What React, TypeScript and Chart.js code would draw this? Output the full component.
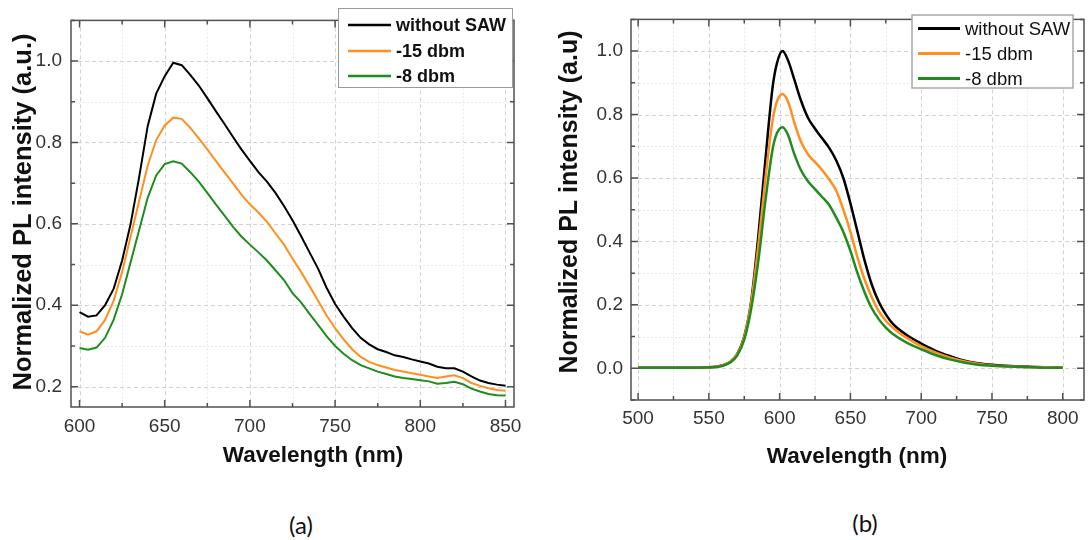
import React, { useEffect, useRef } from "react";
import { Chart, registerables } from "chart.js";

Chart.register(...registerables);

// ---------- data: panel (a) ----------
const wavelengthsA = [
  600, 605, 610, 615, 620, 625, 630, 635, 640, 645, 650, 655, 660, 665, 670, 675, 680,
  685, 690, 695, 700, 705, 710, 715, 720, 725, 730, 735, 740, 745, 750, 755, 760, 765,
  770, 775, 780, 785, 790, 795, 800, 805, 810, 815, 820, 825, 830, 835, 840, 845, 850,
];
const withoutSawA = [
  0.383, 0.372, 0.375, 0.4, 0.44, 0.51, 0.6, 0.715, 0.84, 0.92, 0.963, 0.996, 0.99,
  0.966, 0.94, 0.909, 0.877, 0.846, 0.814, 0.783, 0.755, 0.727, 0.704, 0.676, 0.644,
  0.609, 0.57, 0.53, 0.49, 0.443, 0.403, 0.372, 0.344, 0.32, 0.304, 0.292, 0.285, 0.277,
  0.273, 0.267, 0.262, 0.257, 0.249, 0.245, 0.245, 0.237, 0.225, 0.215, 0.209, 0.205, 0.202,
];
const dbm15A = [
  0.336, 0.328, 0.336, 0.364, 0.411, 0.482, 0.569, 0.656, 0.743, 0.806, 0.842, 0.861, 0.858,
  0.836, 0.81, 0.783, 0.755, 0.727, 0.7, 0.672, 0.648, 0.628, 0.605, 0.577, 0.549, 0.515,
  0.482, 0.447, 0.411, 0.375, 0.344, 0.316, 0.292, 0.273, 0.261, 0.253, 0.247, 0.241, 0.237,
  0.233, 0.229, 0.225, 0.221, 0.225, 0.228, 0.221, 0.209, 0.202, 0.196, 0.192, 0.19,
];
const dbm8A = [
  0.295, 0.291, 0.296, 0.32, 0.364, 0.427, 0.506, 0.585, 0.664, 0.719, 0.747, 0.754, 0.748,
  0.727, 0.704, 0.676, 0.648, 0.621, 0.593, 0.569, 0.549, 0.53, 0.51, 0.486, 0.462, 0.43,
  0.407, 0.379, 0.352, 0.324, 0.3, 0.281, 0.265, 0.253, 0.245, 0.237, 0.231, 0.225, 0.221,
  0.219, 0.216, 0.213, 0.207, 0.209, 0.212, 0.206, 0.195, 0.188, 0.182, 0.179, 0.178,
];

// ---------- data: panel (b) ----------
const wavelengthsB = [
  500, 520, 540, 550, 555, 560, 565, 570, 575, 580, 585, 590, 595, 598, 602, 606, 610, 615,
  620, 625, 630, 635, 640, 645, 650, 655, 660, 665, 670, 675, 680, 690, 700, 710, 720, 730,
  740, 750, 760, 770, 780, 790, 800,
];
const withoutSawB = [
  0.002, 0.002, 0.002, 0.003, 0.005, 0.01, 0.02, 0.045, 0.1, 0.215, 0.42, 0.66, 0.885, 0.96,
  1.0, 0.97, 0.916, 0.845, 0.79, 0.755, 0.725, 0.695, 0.655, 0.6, 0.52, 0.43, 0.34, 0.265,
  0.21, 0.17, 0.14, 0.104, 0.078, 0.056, 0.039, 0.025, 0.016, 0.011, 0.008, 0.006, 0.004,
  0.003, 0.002,
];
const dbm15B = [
  0.002, 0.002, 0.002, 0.003, 0.005, 0.01, 0.02, 0.044, 0.098, 0.21, 0.39, 0.6, 0.78, 0.84,
  0.865, 0.84, 0.78, 0.715, 0.675, 0.65, 0.625, 0.595, 0.56, 0.5, 0.43, 0.35, 0.28, 0.225,
  0.18, 0.15, 0.128, 0.095, 0.07, 0.05, 0.034, 0.022, 0.014, 0.009, 0.007, 0.005, 0.004,
  0.003, 0.002,
];
const dbm8B = [
  0.002, 0.002, 0.002, 0.003, 0.004, 0.008, 0.018, 0.04, 0.09, 0.19, 0.34, 0.53, 0.69, 0.74,
  0.76, 0.735, 0.68, 0.625, 0.59, 0.565, 0.54, 0.515, 0.475, 0.43, 0.37, 0.3, 0.24, 0.19,
  0.155, 0.128, 0.108, 0.08, 0.06, 0.042, 0.028, 0.018, 0.011, 0.008, 0.006, 0.004, 0.003,
  0.002, 0.002,
];

const seriesLabels = ["without SAW", "-15 dbm", "-8 dbm"];
const seriesColors = ["#000000", "#ff8f1f", "#1f8c1f"];

const FONT = "'Liberation Sans', Arial, Helvetica, sans-serif";

const isMajor = (v: number, step: number) =>
  Math.abs(v / step - Math.round(v / step)) < 1e-6;

const panelPlugin = {
  id: "panel",
  beforeDatasetsDraw(chart: any, _args: any, o: any) {
    const { ctx, chartArea: a } = chart;
    const xs = chart.scales.x;
    const ys = chart.scales.y;
    ctx.save();
    ctx.lineWidth = 1;
    for (const t of xs.ticks) {
      const p = Math.round(xs.getPixelForValue(t.value)) + 0.5;
      if (p <= a.left + 1 || p >= a.right - 1) continue;
      const major = isMajor(t.value, o.xMajor);
      ctx.strokeStyle = major ? "#d2d2d2" : "#e9e9e9";
      ctx.setLineDash(major ? [4, 3] : [2, 2]);
      ctx.beginPath();
      ctx.moveTo(p, a.top);
      ctx.lineTo(p, a.bottom);
      ctx.stroke();
    }
    for (const t of ys.ticks) {
      const p = Math.round(ys.getPixelForValue(t.value)) + 0.5;
      if (p <= a.top + 1 || p >= a.bottom - 1) continue;
      const major = isMajor(t.value, o.yMajor);
      ctx.strokeStyle = major ? "#d2d2d2" : "#e9e9e9";
      ctx.setLineDash(major ? [4, 3] : [2, 2]);
      ctx.beginPath();
      ctx.moveTo(a.left, p);
      ctx.lineTo(a.right, p);
      ctx.stroke();
    }
    ctx.restore();
  },
  afterDatasetsDraw(chart: any, _args: any, o: any) {
    const { ctx, chartArea: a } = chart;
    const xs = chart.scales.x;
    const ys = chart.scales.y;
    ctx.save();
    ctx.setLineDash([]);
    ctx.strokeStyle = "#505050";
    ctx.lineWidth = 1.5;
    // inward ticks on all four sides
    for (const t of xs.ticks) {
      const p = xs.getPixelForValue(t.value);
      if (p < a.left - 0.5 || p > a.right + 0.5) continue;
      const len = isMajor(t.value, o.xMajor) ? 7 : 4;
      ctx.beginPath();
      ctx.moveTo(p, a.bottom);
      ctx.lineTo(p, a.bottom - len);
      ctx.moveTo(p, a.top);
      ctx.lineTo(p, a.top + len);
      ctx.stroke();
    }
    for (const t of ys.ticks) {
      const p = ys.getPixelForValue(t.value);
      if (p < a.top - 0.5 || p > a.bottom + 0.5) continue;
      const len = isMajor(t.value, o.yMajor) ? 7 : 4;
      ctx.beginPath();
      ctx.moveTo(a.left, p);
      ctx.lineTo(a.left + len, p);
      ctx.moveTo(a.right, p);
      ctx.lineTo(a.right - len, p);
      ctx.stroke();
    }
    // frame
    ctx.strokeRect(a.left, a.top, a.right - a.left, a.bottom - a.top);

    // legend
    const L = o.legend;
    ctx.fillStyle = "#ffffff";
    ctx.fillRect(L.x, L.y, L.w, L.h);
    ctx.strokeStyle = L.border;
    ctx.lineWidth = L.borderWidth;
    ctx.strokeRect(L.x, L.y, L.w, L.h);
    ctx.font = L.font;
    ctx.textAlign = "left";
    ctx.textBaseline = "middle";
    chart.data.datasets.forEach((ds: any, i: number) => {
      const ry = L.rows[i];
      ctx.strokeStyle = ds.borderColor;
      ctx.lineWidth = L.lineWidth;
      ctx.beginPath();
      ctx.moveTo(L.lineX1, ry);
      ctx.lineTo(L.lineX2, ry);
      ctx.stroke();
      ctx.fillStyle = "#111111";
      ctx.fillText(ds.label, L.textX, ry + 1);
    });

    // axis titles
    const T = o.titles;
    ctx.fillStyle = "#111111";
    ctx.textAlign = "center";
    ctx.textBaseline = "middle";
    ctx.font = T.xFont;
    ctx.fillText(T.xText, T.xX, T.xY);
    ctx.save();
    ctx.translate(T.yX, T.yY);
    ctx.rotate(-Math.PI / 2);
    ctx.font = T.yFont;
    ctx.fillText(T.yText, 0, 0);
    ctx.restore();
    ctx.restore();
  },
};

type PanelSpec = {
  wavelengths: number[];
  series: number[][];
  lineWidth: number;
  smooth: boolean;
  xMin: number;
  xMax: number;
  yMin: number;
  yMax: number;
  yAxisWidth: number;
  xAxisHeight: number;
  padTop: number;
  padRight: number;
  xLabelPad: number;
  yLabelPad: number;
  legend: any;
  titles: any;
};

const CANVAS_W = 544;
const CANVAS_H = 470;

function buildConfig(s: PanelSpec): any {
  const order = [2, 1, 0];
  return {
    type: "line",
    data: {
      datasets: s.series.map((vals, i) => ({
        label: seriesLabels[i],
        data: s.wavelengths.map((w, k) => ({ x: w, y: vals[k] })),
        borderColor: seriesColors[i],
        backgroundColor: seriesColors[i],
        borderWidth: s.lineWidth,
        pointRadius: 0,
        fill: false,
        order: order[i],
        tension: s.smooth ? 0.4 : 0,
        cubicInterpolationMode: s.smooth ? "monotone" : "default",
      })),
    },
    options: {
      animation: false,
      responsive: false,
      devicePixelRatio: 1,
      layout: { padding: { top: s.padTop, right: s.padRight, left: 0, bottom: 0 } },
      plugins: {
        legend: { display: false },
        tooltip: { enabled: false },
        panel: {
          xMajor: 50,
          yMajor: 0.2,
          legend: s.legend,
          titles: s.titles,
        },
      },
      scales: {
        x: {
          type: "linear",
          min: s.xMin,
          max: s.xMax,
          afterFit: (sc: any) => {
            sc.height = s.xAxisHeight;
          },
          grid: { display: false, drawTicks: false },
          border: { display: false },
          ticks: {
            stepSize: 25,
            includeBounds: false,
            autoSkip: false,
            maxRotation: 0,
            padding: s.xLabelPad,
            color: "#333333",
            font: { family: FONT, size: 19 },
            callback: (v: any) => (isMajor(Number(v), 50) ? String(Math.round(Number(v))) : ""),
          },
        },
        y: {
          type: "linear",
          min: s.yMin,
          max: s.yMax,
          afterFit: (sc: any) => {
            sc.width = s.yAxisWidth;
          },
          grid: { display: false, drawTicks: false },
          border: { display: false },
          ticks: {
            stepSize: 0.1,
            includeBounds: false,
            autoSkip: false,
            padding: s.yLabelPad,
            color: "#333333",
            font: { family: FONT, size: 19 },
            callback: (v: any) => {
              const n = Number(v);
              if (!isMajor(n, 0.2)) return "";
              const r = Math.round(n * 10) / 10;
              return (Math.abs(r) < 1e-9 ? 0 : r).toFixed(1);
            },
          },
        },
      },
    },
    plugins: [panelPlugin],
  };
}

const specA: PanelSpec = {
  wavelengths: wavelengthsA,
  series: [withoutSawA, dbm15A, dbm8A],
  lineWidth: 2,
  smooth: false,
  xMin: 595,
  xMax: 855,
  yMin: 0.15,
  yMax: 1.1,
  yAxisWidth: 71,
  xAxisHeight: CANVAS_H - 407,
  padTop: 7,
  padRight: CANVAS_W - 514,
  xLabelPad: 8,
  yLabelPad: 9,
  legend: {
    x: 338.5,
    y: 8.5,
    w: 174,
    h: 79,
    border: "#9a9a9a",
    borderWidth: 1,
    lineX1: 348,
    lineX2: 391,
    textX: 396,
    rows: [25, 51, 76],
    lineWidth: 2.5,
    font: `bold 18px ${FONT}`,
  },
  titles: {
    xText: "Wavelength (nm)",
    xX: 313,
    xY: 456,
    xFont: `bold 22.5px ${FONT}`,
    yText: "Normalized PL intensity (a.u.)",
    yX: 23.5,
    yY: 212,
    yFont: `bold 25.5px ${FONT}`,
  },
};

const specB: PanelSpec = {
  wavelengths: wavelengthsB,
  series: [withoutSawB, dbm15B, dbm8B],
  lineWidth: 2.5,
  smooth: true,
  xMin: 495,
  xMax: 815,
  yMin: -0.1,
  yMax: 1.1,
  yAxisWidth: 87,
  xAxisHeight: CANVAS_H - 400,
  padTop: 6,
  padRight: CANVAS_W - 540,
  xLabelPad: 7,
  yLabelPad: 8,
  legend: {
    x: 368,
    y: 15,
    w: 161,
    h: 73,
    border: "#a8a8a8",
    borderWidth: 1.5,
    lineX1: 374,
    lineX2: 416,
    textX: 421,
    rows: [28.5, 53.5, 78.5],
    lineWidth: 3,
    font: `18.5px ${FONT}`,
  },
  titles: {
    xText: "Wavelength (nm)",
    xX: 313,
    xY: 457,
    xFont: `bold 22.5px ${FONT}`,
    yText: "Normalized PL intensity (a.u)",
    yX: 26,
    yY: 202,
    yFont: `bold 25px ${FONT}`,
  },
};

function Panel({ left, spec }: { left: number; spec: PanelSpec }) {
  const ref = useRef<HTMLCanvasElement>(null);
  useEffect(() => {
    if (!ref.current) return;
    const chart = new Chart(ref.current, buildConfig(spec));
    return () => chart.destroy();
  }, [spec]);
  return (
    <canvas
      ref={ref}
      width={CANVAS_W}
      height={CANVAS_H}
      style={{ position: "absolute", left, top: 0, width: CANVAS_W, height: CANVAS_H }}
    />
  );
}

const captionStyle: React.CSSProperties = {
  position: "absolute",
  width: 100,
  textAlign: "center",
  fontFamily: "Lato, 'Open Sans', sans-serif",
  fontSize: 24,
  lineHeight: "24px",
  color: "#111",
};

export default function App() {
  return (
    <div
      style={{
        position: "absolute",
        left: 0,
        top: 0,
        width: 1088,
        height: 540,
        background: "#ffffff",
        overflow: "hidden",
      }}
    >
      <Panel left={0} spec={specA} />
      <Panel left={544} spec={specB} />
      <div style={{ ...captionStyle, left: 251, top: 513 }}>(a)</div>
      <div style={{ ...captionStyle, left: 815, top: 511 }}>(b)</div>
    </div>
  );
}
